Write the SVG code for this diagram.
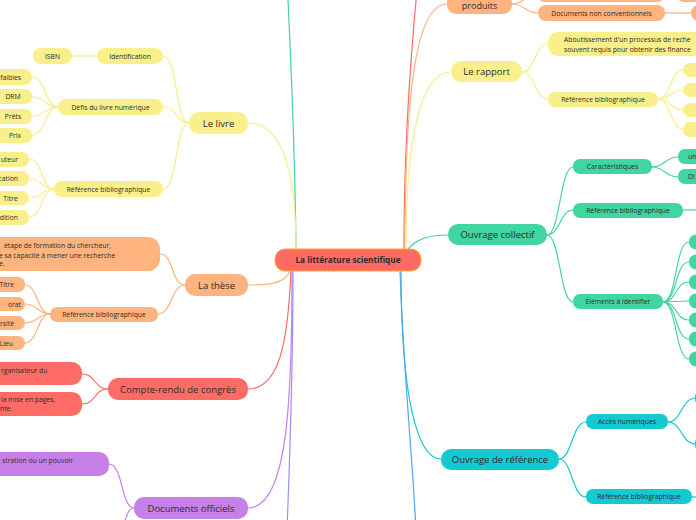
<svg xmlns="http://www.w3.org/2000/svg" width="696" height="520" viewBox="0 0 696 520">
<style>
text{font-family:"Open Sans","Noto Sans",sans-serif;fill:#2b2b2b}
.m{font-size:9.5px;text-anchor:middle}
.s{font-size:6.8px;text-anchor:middle}
.e{font-size:6.8px;text-anchor:end}
.l{font-size:6.8px;text-anchor:start}
.c{font-size:8.2px;font-weight:bold;text-anchor:middle}
.Y{fill:#F9F08C}.O{fill:#FFB37E}.R{fill:#FF6B65}.P{fill:#C77FE8}.G{fill:#40D6A2}.C{fill:#14C9D0}
#connectors path{fill:none;stroke-width:1.2}
.cy{stroke:#F7EE88}.co{stroke:#FFB37E}.cr{stroke:#FF6B65}.cp{stroke:#C77FE8}.cg{stroke:#40D6A2}.cc{stroke:#14C9D0}.cb{stroke:#9B8CFF}.cbl{stroke:#4FA8F2}
</style>
<g id="connectors">
<path class="cg" d="M296,249 C295,150 291,60 287,-20" stroke-width="1.6"/>
<path class="cy" d="M248,123 C285,123 296,180 296,249" stroke-width="1.6"/>
<path class="co" d="M290,271 C285,284 268,285 248,285" stroke-width="1.6"/>
<path class="cr" d="M291,271 C288,340 280,389 248,389" stroke-width="1.6"/>
<path class="cp" d="M292,271 C292,400 288,508 248,508" stroke-width="1.6"/>
<path class="cb" d="M293,271 C293,380 290,450 287,530" stroke-width="1.6"/>
<path class="cr" d="M404,249 C404,150 410,60 418,-20" stroke-width="1.6"/>
<path class="co" d="M405,249 C405,80 418,4 447,4" stroke-width="1.6"/>
<path class="cy" d="M406,249 C406,140 420,72 451,72" stroke-width="1.6"/>
<path class="cg" d="M408,249 C418,238 430,235 448,235" stroke-width="1.6"/>
<path class="cc" d="M401,271 C401,400 418,459 441,459" stroke-width="1.6"/>
<path class="cbl" d="M400,271 C404,380 412,450 416,530" stroke-width="1.6"/>
<path class="cy" d="M189,123 C175,123 178,56 163,56"/>
<path class="cy" d="M189,123 C175,123 178,107 163,107"/>
<path class="cy" d="M189,123 C175,123 178,189 163,189"/>
<path class="cy" d="M97,56 L72,56"/>
<path class="cy" d="M58,107 C45,107 46,77 32,77"/>
<path class="cy" d="M58,107 C45,107 46,97 32,97"/>
<path class="cy" d="M58,107 C45,107 46,116 32,116"/>
<path class="cy" d="M58,107 C45,107 46,135 32,135"/>
<path class="cy" d="M54,189 C41,189 43,159 29,159"/>
<path class="cy" d="M54,189 C41,189 43,179 29,179"/>
<path class="cy" d="M54,189 C41,189 43,198 29,198"/>
<path class="cy" d="M54,189 C41,189 43,217 29,217"/>
<path class="co" d="M185,285 C171,285 174,254 160,254"/>
<path class="co" d="M185,285 C171,285 172,314 158,314"/>
<path class="co" d="M50,314 C37,314 38,285 25,285"/>
<path class="co" d="M50,314 C37,314 38,304 25,304"/>
<path class="co" d="M50,314 C37,314 38,323 25,323"/>
<path class="co" d="M50,314 C37,314 38,343 25,343"/>
<path class="cr" d="M108,389 C94,389 96,374 82,374"/>
<path class="cr" d="M108,389 C94,389 96,404 82,404"/>
<path class="cp" d="M134,508 C121,508 123,464 109,464"/>
<path class="cp" d="M134,508 C121,508 123,560 109,560"/>
<path class="co" d="M512,4 C525,4 524,-6 537,-6"/>
<path class="co" d="M512,4 C525,4 525,13 538,13"/>
<path class="co" d="M665,13 L691,13"/>
<path class="co" d="M665,-6 L676,-6"/>
<path class="cy" d="M522,72 C535,72 535,44 548,44"/>
<path class="cy" d="M522,72 C535,72 535,99 548,99"/>
<path class="cy" d="M658,99 C671,99 670,70 683,70"/>
<path class="cy" d="M658,99 C671,99 670,90 683,90"/>
<path class="cy" d="M658,99 C671,99 670,110 683,110"/>
<path class="cy" d="M658,99 C671,99 670,129 683,129"/>
<path class="cg" d="M547,235 C560,235 560,167 573,167"/>
<path class="cg" d="M547,235 C560,235 560,210 573,210"/>
<path class="cg" d="M547,235 C560,235 560,302 573,302"/>
<path class="cg" d="M652,167 C665,167 665,157 678,157"/>
<path class="cg" d="M652,167 C665,167 665,177 678,177"/>
<path class="cg" d="M683,210 L700,210"/>
<path class="cg" d="M663,302 C677,302 675,242 689,242"/>
<path class="cg" d="M663,302 C677,302 675,262 689,262"/>
<path class="cg" d="M663,302 C677,302 675,282 689,282"/>
<path class="cg" d="M663,302 L689,301"/>
<path class="cg" d="M663,302 C677,302 675,320 689,320"/>
<path class="cg" d="M663,302 C677,302 675,339 689,339"/>
<path class="cg" d="M663,302 C677,302 675,359 689,359"/>
<path class="cc" d="M559,459 C572,459 572,422 586,422"/>
<path class="cc" d="M559,459 C572,459 572,497 586,497"/>
<path class="cc" d="M668,422 C682,422 681,398 696,398"/>
<path class="cc" d="M668,422 C682,422 681,444 696,444"/>
<path class="cc" d="M692,497 L700,497"/>
</g>

<g id="central"><rect x="275" y="249" width="146" height="22" rx="10" fill="#FF6B63" stroke="#FFA726" stroke-width="1"/><text class="c" x="348" y="263">La littérature scientifique</text></g>

<g id="le-livre"><rect class="Y" x="189" y="112" width="59" height="22" rx="10"/><text class="m" x="218.5" y="126.5">Le livre</text></g>
<g id="identification"><rect class="Y" x="97" y="48" width="66" height="16" rx="8"/><text class="s" x="130" y="58.5">Identification</text></g>
<g id="isbn"><rect class="Y" x="33" y="48" width="39" height="16" rx="8"/><text class="s" x="52.5" y="58.5">ISBN</text></g>
<g id="defis"><rect class="Y" x="58" y="99" width="105" height="16" rx="8"/><text class="s" x="110.5" y="109.5">Défis du livre numérique</text></g>
<g id="faibles"><rect class="Y" x="-40" y="69" width="72" height="16" rx="8"/><text class="e" x="21" y="79.5">faibles</text></g>
<g id="drm"><rect class="Y" x="-40" y="89" width="72" height="15" rx="7"/><text class="s" x="13" y="99">DRM</text></g>
<g id="prets"><rect class="Y" x="-40" y="109" width="72" height="15" rx="7"/><text class="s" x="13" y="119">Prêts</text></g>
<g id="prix"><rect class="Y" x="-40" y="128" width="72" height="15" rx="7"/><text class="s" x="15" y="138">Prix</text></g>
<g id="ref-livre"><rect class="Y" x="54" y="181" width="109" height="16" rx="8"/><text class="s" x="108.5" y="191.5">Référence bibliographique</text></g>
<g id="auteur"><rect class="Y" x="-40" y="152" width="69" height="15" rx="7"/><text class="e" x="18" y="162">uteur</text></g>
<g id="publication"><rect class="Y" x="-40" y="171" width="69" height="15" rx="7"/><text class="e" x="18" y="181">cation</text></g>
<g id="titre-livre"><rect class="Y" x="-40" y="191" width="69" height="14" rx="7"/><text class="s" x="10.5" y="200.5">Titre</text></g>
<g id="edition"><rect class="Y" x="-40" y="210" width="69" height="15" rx="7"/><text class="e" x="18" y="220">dition</text></g>

<g id="la-these"><rect class="O" x="185" y="274" width="63" height="22" rx="10"/><text class="m" x="216.5" y="288.5">La thèse</text></g>
<g id="these-def"><rect class="O" x="-30" y="237" width="190" height="34" rx="12"/><text class="l" x="4" y="247.5">étape de formation du chercheur,</text><text class="l" x="-1" y="257.5">e sa capacité à mener une recherche</text><text class="l" x="-1" y="266">e.</text></g>
<g id="ref-these"><rect class="O" x="50" y="307" width="108" height="15" rx="7"/><text class="s" x="104" y="317">Référence bibliographique</text></g>
<g id="titre-these"><rect class="O" x="-40" y="277" width="65" height="15" rx="7"/><text class="e" x="14" y="287">Titre</text></g>
<g id="doctorat"><rect class="O" x="-40" y="297" width="65" height="14" rx="7"/><text class="e" x="21" y="306.5">orat</text></g>
<g id="universite"><rect class="O" x="-40" y="316" width="65" height="14" rx="7"/><text class="e" x="14" y="325.5">rsité</text></g>
<g id="lieu"><rect class="O" x="-40" y="336" width="65" height="14" rx="7"/><text class="e" x="13" y="345.5">Lieu</text></g>

<g id="compte-rendu"><rect class="R" x="108" y="378" width="140" height="22" rx="10"/><text class="m" x="178" y="392.5">Compte-rendu de congrès</text></g>
<g id="cr-1"><rect class="R" x="-30" y="362" width="112" height="23" rx="10"/><text class="l" x="1" y="372.5">rganisateur du</text></g>
<g id="cr-2"><rect class="R" x="-30" y="392" width="112" height="24" rx="10"/><text class="l" x="1" y="402">la mise en pages,</text><text class="l" x="0" y="410.5">nte.</text></g>

<g id="documents-officiels"><rect class="P" x="134" y="497" width="114" height="22" rx="10"/><text class="m" x="191" y="511.5">Documents officiels</text></g>
<g id="do-1"><rect class="P" x="-30" y="452" width="139" height="24" rx="10"/><text class="e" x="73" y="462.5">stration ou un pouvoir</text></g>

<g id="produits"><rect class="O" x="447" y="-6" width="65" height="20" rx="9"/><text class="m" x="479.5" y="8.5" style="font-size:9px">produits</text></g>
<g id="prod-1"><rect class="O" x="537" y="-14" width="128" height="16" rx="8"/></g>
<g id="prod-1b"><rect class="O" x="676" y="-14" width="40" height="16" rx="8"/></g>
<g id="doc-non-conv"><rect class="O" x="538" y="5" width="127" height="16" rx="8"/><text class="s" x="601.5" y="15.5">Documents non conventionnels</text></g>
<g id="prod-2b"><rect class="O" x="691" y="5" width="30" height="16" rx="8"/></g>

<g id="le-rapport"><rect class="Y" x="451" y="61" width="71" height="21" rx="10"/><text class="m" x="486.5" y="75">Le rapport</text></g>
<g id="rapport-def"><rect class="Y" x="548" y="32" width="170" height="24" rx="10"/><text class="l" x="564" y="42">Aboutissement d'un processus de reche</text><text class="l" x="564" y="52">souvent requis pour obtenir des finance</text></g>
<g id="ref-rapport"><rect class="Y" x="548" y="92" width="110" height="15" rx="7"/><text class="s" x="603" y="102">Référence bibliographique</text></g>
<g id="rap-c1"><rect class="Y" x="683" y="63" width="30" height="14" rx="7"/></g>
<g id="rap-c2"><rect class="Y" x="683" y="83" width="30" height="14" rx="7"/></g>
<g id="rap-c3"><rect class="Y" x="683" y="103" width="30" height="14" rx="7"/></g>
<g id="rap-c4"><rect class="Y" x="683" y="122" width="30" height="15" rx="7"/></g>

<g id="ouvrage-collectif"><rect class="G" x="448" y="224" width="99" height="21" rx="10"/><text class="m" x="497.5" y="238">Ouvrage collectif</text></g>
<g id="caracteristiques"><rect class="G" x="573" y="159" width="79" height="15" rx="7"/><text class="s" x="612.5" y="169">Caractéristiques</text></g>
<g id="car-1"><rect class="G" x="678" y="149" width="30" height="15" rx="7"/><text class="l" x="688" y="159">un</text></g>
<g id="car-2"><rect class="G" x="678" y="169" width="30" height="15" rx="7"/><text class="l" x="688" y="179">Di</text></g>
<g id="ref-collectif"><rect class="G" x="573" y="203" width="110" height="15" rx="7"/><text class="s" x="628" y="213">Référence bibliographique</text></g>
<g id="elements"><rect class="G" x="573" y="294" width="90" height="15" rx="7"/><text class="s" x="618" y="304">Éléments à identifier</text></g>
<g id="el-1"><rect class="G" x="689" y="234.5" width="20" height="15" rx="7"/></g>
<g id="el-2"><rect class="G" x="689" y="254.5" width="20" height="15" rx="7"/></g>
<g id="el-3"><rect class="G" x="689" y="274.5" width="20" height="15" rx="7"/></g>
<g id="el-4"><rect class="G" x="689" y="293.5" width="20" height="15" rx="7"/></g>
<g id="el-5"><rect class="G" x="689" y="312.5" width="20" height="15" rx="7"/></g>
<g id="el-6"><rect class="G" x="689" y="331.5" width="20" height="15" rx="7"/></g>
<g id="el-7"><rect class="G" x="689" y="351.5" width="20" height="15" rx="7"/></g>

<g id="ouvrage-reference"><rect class="C" x="441" y="449" width="118" height="21" rx="10"/><text class="m" x="500" y="463">Ouvrage de référence</text></g>
<g id="acces"><rect class="C" x="586" y="414" width="82" height="15" rx="7"/><text class="s" x="627" y="424">Accès numériques</text></g>
<g id="acc-1"><rect class="C" x="695" y="390" width="20" height="16" rx="7"/></g>
<g id="acc-2"><rect class="C" x="695" y="436" width="20" height="16" rx="7"/></g>
<g id="ref-reference"><rect class="C" x="586" y="489" width="106" height="15" rx="7"/><text class="s" x="639" y="499">Référence bibliographique</text></g>
</svg>
